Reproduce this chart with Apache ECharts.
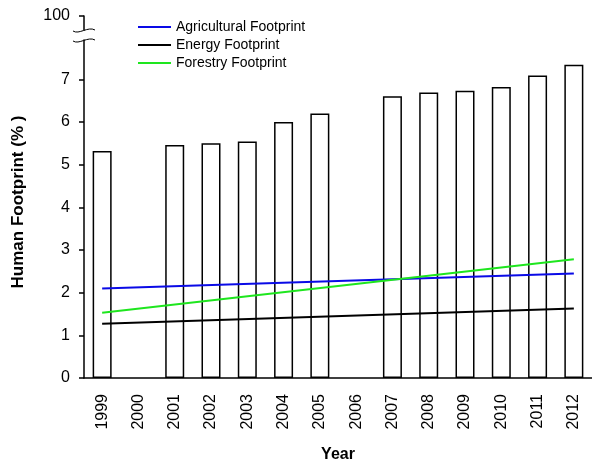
<!DOCTYPE html>
<html>
<head>
<meta charset="utf-8">
<script src="https://cdn.jsdelivr.net/npm/echarts@6/dist/echarts.min.js"></script>
<style>
  html, body { margin: 0; padding: 0; background: #fff; }
  #chart { width: 592px; height: 464px; }
</style>
</head>
<body>
<div id="chart"></div>
<script>
// Years on the category axis
const years = ['1999', '2000', '2001', '2002', '2003', '2004', '2005',
               '2006', '2007', '2008', '2009', '2010', '2011', '2012'];

// Human footprint per year (%); no value for 2000 and 2006
const footprint = [5.32, null, 5.46, 5.50, 5.54, 6.00, 6.20,
                   null, 6.60, 6.69, 6.73, 6.82, 7.09, 7.34];

// Trend lines: value at first and last year
const agricultural = [2.10, 2.45];
const energy = [1.27, 1.63];
const forestry = [1.53, 2.78];

// Tick values on the lower part of the broken y axis
const yTicks = [0, 1, 2, 3, 4, 5, 6, 7];
// Label shown on the top segment above the break
const topLabel = '100';

const FONT = 'Liberation Sans, Arial, sans-serif';

// Spread two end values over the year axis, leaving the inner years empty
function endpoints(pair) {
  return years.map((y, i) => i === 0 ? pair[0] : (i === years.length - 1 ? pair[1] : null));
}

const chart = echarts.init(document.getElementById('chart'));

const lineSeries = (name, color, pair) => ({
  name: name,
  type: 'line',
  xAxisIndex: 0,
  yAxisIndex: 0,
  data: endpoints(pair),
  connectNulls: true,
  showSymbol: false,
  symbol: 'none',
  lineStyle: { color: color, width: 2 },
  itemStyle: { color: color },
  z: 3
});

// Small wavy marks for the axis break
function wave(y) {
  return {
    type: 'bezierCurve',
    shape: { x1: 73, y1: y + 1, cpx1: 79, cpy1: y + 5, cpx2: 88, cpy2: y - 4, x2: 95, y2: y },
    style: { stroke: '#000', lineWidth: 1, fill: null }
  };
}

chart.setOption({
  animation: false,
  backgroundColor: '#fff',
  textStyle: { fontFamily: FONT },
  legend: {
    orient: 'vertical',
    left: 133,
    top: 15,
    itemWidth: 33,
    itemHeight: 2,
    itemGap: 4,
    icon: 'rect',
    textStyle: { fontFamily: FONT, fontSize: 14, color: '#000', lineHeight: 14 },
    data: ['Agricultural Footprint', 'Energy Footprint', 'Forestry Footprint']
  },
  grid: [
    { left: 84, right: 0, top: 40, bottom: 86, containLabel: false, outerBoundsMode: 'none' },
    { left: 84, width: 10, top: 16, height: 14, containLabel: false, outerBoundsMode: 'none' }
  ],
  xAxis: [
    {
      type: 'category',
      gridIndex: 0,
      data: years,
      boundaryGap: true,
      axisLine: { lineStyle: { color: '#000', width: 1.5 } },
      axisTick: { alignWithLabel: true, length: 6, lineStyle: { color: '#000', width: 1.5 } },
      axisLabel: { rotate: 90, margin: 16, fontSize: 16, color: '#000', fontFamily: FONT },
      name: 'Year',
      nameLocation: 'middle',
      nameGap: 69,
      nameTextStyle: { fontSize: 16, fontWeight: 'bold', color: '#000', fontFamily: FONT },
      splitLine: { show: false }
    },
    { type: 'value', gridIndex: 1, show: false }
  ],
  yAxis: [
    {
      type: 'value',
      gridIndex: 0,
      min: 0,
      max: 7.92,
      interval: 1,
      axisLine: { show: true, lineStyle: { color: '#000', width: 1.5 } },
      axisTick: { show: true, length: 5, customValues: yTicks, lineStyle: { color: '#000', width: 1.5 } },
      axisLabel: { margin: 14, fontSize: 16, color: '#000', fontFamily: FONT, customValues: yTicks },
      splitLine: { show: false }
    },
    {
      type: 'category',
      gridIndex: 1,
      data: ['', topLabel],
      boundaryGap: false,
      axisLine: { show: true, lineStyle: { color: '#000', width: 1.5 } },
      axisTick: { show: true, length: 5, interval: (i) => i === 1, lineStyle: { color: '#000', width: 1.5 } },
      axisLabel: { margin: 14, fontSize: 16, color: '#000', fontFamily: FONT, interval: (i) => i === 1 },
      splitLine: { show: false }
    }
  ],
  graphic: [
    wave(30),
    wave(40),
    {
      // y axis title
      type: 'text',
      x: 18,
      y: 202,
      rotation: Math.PI / 2,
      style: {
        text: 'Human Footprint (% )',
        font: 'bold 17px ' + FONT,
        fill: '#000',
        align: 'center',
        verticalAlign: 'middle'
      }
    }
  ],
  series: [
    {
      name: 'Human Footprint',
      type: 'bar',
      xAxisIndex: 0,
      yAxisIndex: 0,
      data: footprint,
      barWidth: 19,
      itemStyle: { color: '#fff', borderColor: '#000', borderWidth: 1.5 },
      z: 2
    },
    lineSeries('Agricultural Footprint', '#0a0ae6', agricultural),
    lineSeries('Energy Footprint', '#000000', energy),
    lineSeries('Forestry Footprint', '#1ee61e', forestry)
  ]
});
</script>
</body>
</html>
